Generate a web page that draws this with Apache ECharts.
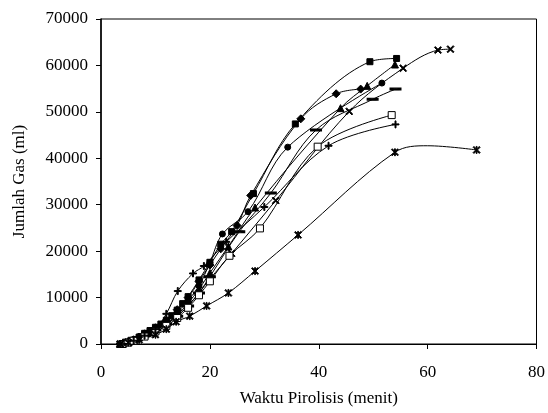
<!DOCTYPE html>
<html><head><meta charset="utf-8">
<script src="https://cdn.jsdelivr.net/npm/echarts@6/dist/echarts.min.js"></script>
<style>html,body{margin:0;padding:0;background:#fff}#c{width:548px;height:413px}</style>
</head><body><div id="c"></div>
<script>
// Data: time (menit) and gas volume (ml)
var sqX = [3.5,4.5,5.5,7,8,9,10,11,12,13,14,15,16,18,20,22,24,28,35.7,49.4,54.3];
var sqY = [0,400,800,1500,2300,2900,3600,4300,5100,6100,7300,8700,10200,13800,17600,21500,24200,32400,47400,60800,61500];
var diX = [3.5,4.5,6,7,8,9,10,12,14,16,18,20,22,25,27.5,36.7,43.2,47.7];
var diY = [0,300,900,1500,2200,2800,3500,5000,7400,10000,13500,17000,20500,25500,32000,48500,53900,54900];
var ciX = [3.8,5,6,7,8,9,10,12,14,16,18,20,22.3,27,34.3,51.6];
var ciY = [0,500,1000,1600,2100,2700,3300,4800,6800,9400,12500,17500,23700,28500,42400,56200];
var trX = [3.5,5,6,7,8,9,10,12,14,16,18,20,23.4,28.3,44,48.9,54];
var trY = [0,400,900,1400,2000,2600,3200,4500,6300,8800,11800,15300,21000,29400,50800,55600,60200];
var crX = [4,5,6,8,10,12,14,16,18,20,24,32.1,45.6,55.5,61.9,64.2];
var crY = [0,300,700,1700,3000,4200,6000,8300,11000,14000,19500,30900,50100,59400,63300,63500];
var dsX = [4,5,6,8,10,12,14,16,18,20,25.4,31.2,39.5,49.9,54.1];
var dsY = [0,400,800,1800,3000,4300,6000,8200,11000,14500,24200,32500,46100,52700,54900];
var osX = [4,5,6,8,10,12,14,16,18,20,23.6,29.2,39.8,53.4];
var osY = [0,300,700,1600,2700,3900,5600,7800,10500,13500,19000,24900,42500,49300];
var plX = [4,6,8,10,12,14.1,16.9,18.9,23,30,41.8,54.1];
var plY = [0,700,1800,3200,6500,11400,15200,16800,22000,29500,42700,47300];
var stX = [3.5,5,7,10,12,13.8,16.3,19.4,23.4,28.3,36.2,54,60,69];
var stY = [0,300,900,2000,3200,4800,6000,8200,11000,15700,23500,41300,42700,41800];
var stUnmarked = [12]; // index of the curve-peak point that carries no marker
var sqUnmarked = [];
var xTicks = [0,20,40,60,80];
var yTicks = [0,10000,20000,30000,40000,50000,60000,70000];

var P_X = 'path://M0,1.2L1.2,0L5,3.8L8.8,0L10,1.2L6.2,5L10,8.8L8.8,10L5,6.2L1.2,10L0,8.8L3.8,5Z';
var P_PLUS = 'path://M4.3,0H5.7V4.3H10V5.7H5.7V10H4.3V5.7H0V4.3H4.3Z';
var P_DASH = 'path://M0,0H10V2H0Z';
var P_STAR = 'path://M0,1.2L1.2,0L4.4,3.2V0H5.6V3.2L8.8,0L10,1.2L6.2,5L10,8.8L8.8,10L5.6,6.8V10H4.4V6.8L1.2,10L0,8.8L3.8,5Z';

function zip(a,b,un){return a.map(function(v,i){
  if(un && un.indexOf(i)>=0) return {value:[v,b[i]],symbol:'none'};
  return [v,b[i]];});}
function mk(name,xs,ys,sym,size,opt,un){
  var s = {name:name,type:'line',data:zip(xs,ys,un),smooth:0.35,symbol:sym,symbolSize:size,
    lineStyle:{color:'#000',width:1},itemStyle:{color:'#000',borderColor:'#000',borderWidth:1},
    emphasis:{disabled:true},animation:false,z:2};
  if(opt){for(var k in opt)s[k]=opt[k];}
  return s;
}
var chart = echarts.init(document.getElementById('c'),null,{renderer:'canvas'});
var font = 'Liberation Serif';
chart.setOption({
  backgroundColor:'#fff',
  animation:false,
  grid:{left:101,right:9,top:19,bottom:69,show:true,borderColor:'#000',borderWidth:1,backgroundColor:'transparent'},
  xAxis:{type:'value',min:0,max:80,interval:20,
    name:'Waktu Pirolisis (menit)',nameLocation:'middle',nameGap:46,
    nameTextStyle:{fontFamily:font,fontSize:17,color:'#000'},
    axisLine:{show:true,onZero:false,lineStyle:{color:'#000',width:1}},
    axisTick:{show:true,length:5,lineStyle:{color:'#000'}},
    axisLabel:{fontFamily:font,fontSize:17,color:'#000',margin:20,
      formatter:function(v){return xTicks.indexOf(v)>=0?String(v):'';}},
    splitLine:{show:false}},
  yAxis:{type:'value',min:0,max:70000,interval:10000,
    name:'Jumlah Gas (ml)',nameLocation:'middle',nameGap:73,nameRotate:90,
    nameTextStyle:{fontFamily:font,fontSize:17,color:'#000'},
    axisLine:{show:true,onZero:false,lineStyle:{color:'#000',width:1.5}},
    axisTick:{show:true,length:5,lineStyle:{color:'#000'}},
    axisLabel:{fontFamily:font,fontSize:17,color:'#000',margin:13,
      formatter:function(v){return yTicks.indexOf(v)>=0?String(v):'';}},
    splitLine:{show:false}},
  series:[
    mk('A',sqX,sqY,'rect',6,null,sqUnmarked),
    mk('B',diX,diY,'diamond',8),
    mk('C',ciX,ciY,'circle',6),
    mk('D',trX,trY,'triangle',7),
    mk('E',crX,crY,P_X,7),
    mk('F',dsX,dsY,P_DASH,[8,2]),
    mk('G',osX,osY,'rect',7,{itemStyle:{color:'#fff',borderColor:'#000',borderWidth:1}}),
    mk('H',plX,plY,P_PLUS,7),
    mk('I',stX,stY,P_STAR,7,null,stUnmarked)
  ]
});
</script></body></html>
